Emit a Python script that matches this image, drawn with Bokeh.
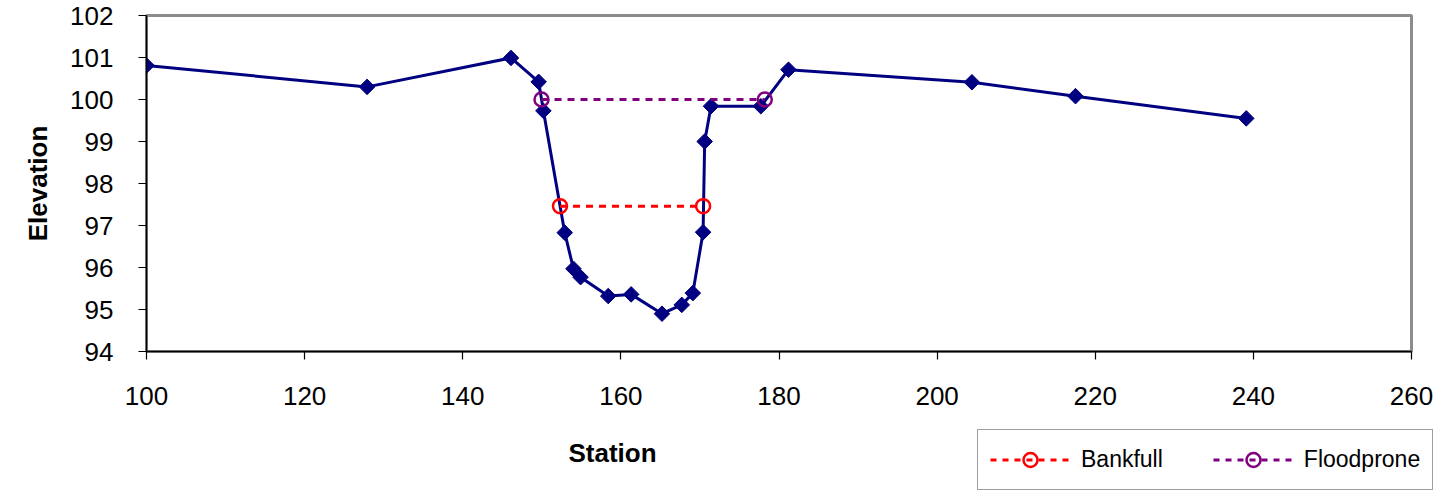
import numpy as np
from bokeh.plotting import figure
from bokeh.layouts import column, row
from bokeh.models import Range1d, Legend, LegendItem, FixedTicker, Label
from bokeh.embed import file_html
from bokeh.resources import INLINE

# ---- data ----
station = [100.0, 127.9, 146.1, 149.6, 150.2, 152.9, 154.0, 154.9, 158.4, 161.3,
           165.2, 167.7, 169.1, 170.4, 170.6, 171.4, 177.7, 181.2, 204.4, 217.5, 239.1]
elevation = [100.81, 100.30, 100.99, 100.42, 99.73, 96.83, 95.97, 95.77, 95.32, 95.36,
             94.90, 95.11, 95.39, 96.84, 99.00, 99.84, 99.84, 100.71, 100.41, 100.08, 99.55]
bankfull_x = [152.3, 170.4]
bankfull_y = [97.46, 97.46]
floodprone_x = [149.96, 178.2]
floodprone_y = [100.0, 100.0]
x_ticks = [100, 120, 140, 160, 180, 200, 220, 240, 260]
y_ticks = [94, 95, 96, 97, 98, 99, 100, 101, 102]

FONT = "Liberation Sans"
NAVY = "#000080"
RED = "#ff0000"
PURPLE = "#800080"

# ---- main chart ----
p = figure(width=1438, height=425, output_backend="svg", toolbar_location=None,
           x_range=Range1d(100, 260), y_range=Range1d(94, 102),
           min_border_left=146, min_border_right=27, min_border_top=15,
           min_border_bottom=74)
p.grid.visible = False
p.outline_line_color = "#8c8c8c"
p.outline_line_width = 3

for ax in (p.xaxis[0], p.yaxis[0]):
    ax.axis_line_color = "black"
    ax.axis_line_width = 1.5
    ax.major_tick_line_color = "black"
    ax.major_tick_line_width = 1.2
    ax.major_tick_in = 0
    ax.major_tick_out = 8
    ax.minor_tick_line_color = None
    ax.major_label_text_font = FONT
    ax.major_label_text_font_size = "26px"
    ax.major_label_text_color = "black"
    ax.axis_label_text_font = FONT
    ax.axis_label_text_font_size = "26px"
    ax.axis_label_text_font_style = "bold"
    ax.axis_label_text_color = "black"

p.xaxis.ticker = FixedTicker(ticks=x_ticks)
p.yaxis.ticker = FixedTicker(ticks=y_ticks)
p.yaxis.axis_label = "Elevation"
p.xaxis.major_label_standoff = 27
p.yaxis.major_label_standoff = 25
p.yaxis.axis_label_standoff = 14

p.line(station, elevation, line_color=NAVY, line_width=3)
p.scatter(station, elevation, marker="square", angle=np.pi / 4, size=11,
          fill_color=NAVY, line_color=NAVY, line_width=1)

p.line(bankfull_x, bankfull_y, line_color=RED, line_width=3, line_dash="7 6")
p.scatter(bankfull_x, bankfull_y, marker="circle", size=14, fill_color=None,
          line_color=RED, line_width=2.5)
p.line(floodprone_x, floodprone_y, line_color=PURPLE, line_width=3, line_dash="7 6")
p.scatter(floodprone_x, floodprone_y, marker="circle", size=14, fill_color=None,
          line_color=PURPLE, line_width=2.5)

# ---- bottom row: x-axis title + legend ----
st = figure(width=977, height=67, output_backend="svg", toolbar_location=None,
            x_range=Range1d(0, 1), y_range=Range1d(0, 1),
            x_axis_type=None, y_axis_type=None,
            min_border_left=0, min_border_right=0, min_border_top=0, min_border_bottom=0)
st.grid.visible = False
st.outline_line_color = None
st.add_layout(Label(x=612, y=40, x_units="screen", y_units="screen", text="Station",
                    text_font=FONT, text_font_size="26px", text_font_style="bold",
                    text_align="center", text_baseline="middle", text_color="black"))

# legend panel: series glyphs re-used (their data lies outside this panel's ranges)
lg = figure(width=461, height=67, output_backend="svg", toolbar_location=None,
            x_range=Range1d(0, 1), y_range=Range1d(0, 1),
            x_axis_type=None, y_axis_type=None,
            min_border_left=0, min_border_right=0, min_border_top=0, min_border_bottom=0)
lg.grid.visible = False
lg.outline_line_color = None
bl = lg.line(bankfull_x, bankfull_y, line_color=RED, line_width=3, line_dash="6 6")
bs = lg.scatter(bankfull_x, bankfull_y, marker="circle", size=14, fill_color=None,
                line_color=RED, line_width=2.5)
fl = lg.line(floodprone_x, floodprone_y, line_color=PURPLE, line_width=3, line_dash="6 6")
fs = lg.scatter(floodprone_x, floodprone_y, marker="circle", size=14, fill_color=None,
                line_color=PURPLE, line_width=2.5)
legend = Legend(items=[LegendItem(label="Bankfull", renderers=[bl, bs]),
                       LegendItem(label="Floodprone", renderers=[fl, fs])],
                location=(0, 2), orientation="horizontal",
                border_line_color="#404040", border_line_width=1.2,
                background_fill_color="white", background_fill_alpha=1,
                label_text_font=FONT, label_text_font_size="23px",
                label_text_color="black",
                glyph_width=80, glyph_height=35, padding=12, spacing=50,
                label_standoff=11, margin=0)
lg.add_layout(legend)

layout = column(p, row(st, lg, spacing=0), spacing=0)
open("out.html", "w").write(file_html(layout, INLINE))
